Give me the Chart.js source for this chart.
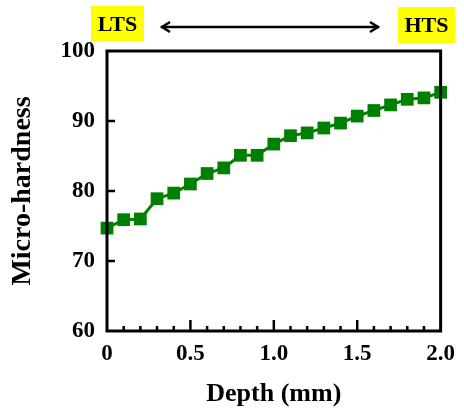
<!DOCTYPE html>
<html><head><meta charset="utf-8">
<script src="https://cdn.jsdelivr.net/npm/chart.js@4/dist/chart.umd.min.js"></script>
<style>html,body{margin:0;padding:0;background:#fff}#wrap{width:464px;height:411px}</style>
</head><body><div id="wrap"><canvas id="c" width="464" height="411"></canvas></div>
<script>
const depth = [0,0.1,0.2,0.3,0.4,0.5,0.6,0.7,0.8,0.9,1.0,1.1,1.2,1.3,1.4,1.5,1.6,1.7,1.8,1.9,2.0];
const hardness = [74.7,75.9,76.0,78.9,79.7,81.0,82.5,83.3,85.1,85.1,86.7,87.9,88.3,89.0,89.7,90.7,91.5,92.3,93.1,93.3,94.1];
const xTicks = [0,0.5,1.0,1.5,2.0];
const xTickLabels = ['0','0.5','1.0','1.5','2.0'];
const yTicks = [60,70,80,90,100];
const FONT = '"Liberation Serif","Times New Roman",serif';

const decor = {
  id:'decor',
  afterDraw(chart){
    const {ctx, chartArea:a, scales:{x,y}} = chart;
    ctx.save();
    ctx.strokeStyle='#000'; ctx.lineCap='butt';
    ctx.lineWidth=2.5;
    for(let i=1; i<20; i++){
      const v = i/10;
      const px = x.getPixelForValue(v);
      const len = (i%5===0)?11:5;
      ctx.beginPath(); ctx.moveTo(px,a.bottom); ctx.lineTo(px,a.bottom-len); ctx.stroke();
    }
    for(const v of [70,80,90]){
      const py = y.getPixelForValue(v);
      ctx.beginPath(); ctx.moveTo(a.left,py); ctx.lineTo(a.left+8,py); ctx.stroke();
    }
    ctx.lineWidth=3;
    ctx.strokeRect(a.left,a.top,a.right-a.left,a.bottom-a.top);
    ctx.fillStyle='#ffff00';
    ctx.fillRect(91,6,53,35);
    ctx.fillRect(398,7,57,36);
    ctx.fillStyle='#000';
    ctx.font='bold 22px '+FONT;
    ctx.textAlign='center'; ctx.textBaseline='middle';
    ctx.fillText('LTS',117.5,25);
    ctx.fillText('HTS',426.5,26);
    ctx.lineWidth=2.5;
    const ay=27, x1=161, x2=379;
    ctx.beginPath(); ctx.moveTo(x1,ay); ctx.lineTo(x2,ay); ctx.stroke();
    ctx.beginPath(); ctx.moveTo(x1+9,ay-5); ctx.lineTo(x1+1,ay); ctx.lineTo(x1+9,ay+5); ctx.stroke();
    ctx.beginPath(); ctx.moveTo(x2-9,ay-5); ctx.lineTo(x2-1,ay); ctx.lineTo(x2-9,ay+5); ctx.stroke();
    ctx.restore();
  }
};

new Chart(document.getElementById('c'), {
  type:'line',
  data:{ datasets:[{
    data: depth.map((d,i)=>({x:d,y:hardness[i]})),
    borderColor:'#008000', backgroundColor:'#008000', borderWidth:3,
    pointStyle:'rect', pointRadius:9, pointHoverRadius:9, pointBorderWidth:0,
    tension:0, clip:false
  }]},
  options:{
    responsive:false, animation:false, devicePixelRatio:1,
    layout:{padding:{top:51,right:22,left:0,bottom:0}},
    plugins:{legend:{display:false}, tooltip:{enabled:false}},
    scales:{
      x:{ type:'linear', min:0, max:2.0,
        afterBuildTicks(s){ s.ticks = xTicks.map(v=>({value:v})); },
        afterFit(s){ s.height = 80; },
        grid:{display:false, drawTicks:false},
        border:{display:false},
        ticks:{ color:'#000', padding:9, maxRotation:0,
          font:{family:FONT, size:23, weight:'bold'},
          callback(v){ const i = xTicks.indexOf(v); return i>=0?xTickLabels[i]:''; } },
        title:{display:true, text:'Depth (mm)', color:'#000', padding:{top:4,bottom:1},
          font:{family:FONT, size:26, weight:'bold'}}
      },
      y:{ type:'linear', min:60, max:100,
        afterBuildTicks(s){ s.ticks = yTicks.map(v=>({value:v})); },
        afterFit(s){ s.width = 107; },
        grid:{display:false, drawTicks:false},
        border:{display:false},
        ticks:{ color:'#000', padding:12,
          font:{family:FONT, size:23, weight:'bold'} },
        title:{display:true, text:'Micro-hardness', color:'#000', padding:{top:6,bottom:4},
          font:{family:FONT, size:28, weight:'bold'}}
      }
    }
  },
  plugins:[decor]
});
</script></body></html>
